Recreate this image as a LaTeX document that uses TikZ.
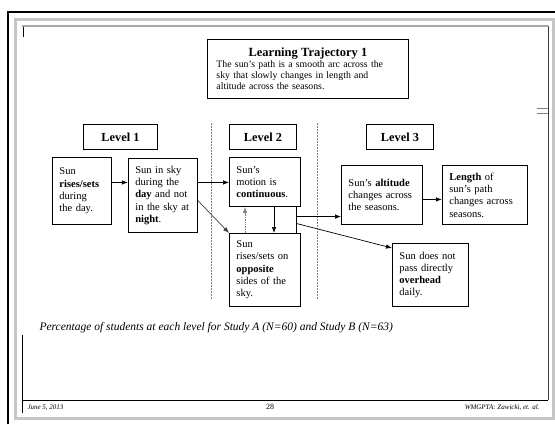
\documentclass[tikz,border=0pt]{standalone}
\usepackage{fontspec}
\setmainfont{Liberation Serif}
\usepackage{tikz}
\usetikzlibrary{positioning,arrows.meta}

\begin{document}
\begin{tikzpicture}[x=1pt, y=-1pt,
stage/.style={draw, line width=0.9pt, anchor=north west, align=left, inner xsep=7pt, inner ysep=4pt, font=\fontsize{10.5}{12.3}\selectfont},
levelbox/.style={draw, line width=0.9pt, anchor=north west, minimum height=25pt, font=\fontsize{12.3}{14}\selectfont\bfseries},
flow/.style={-{Latex[length=6pt,width=4.5pt]}, line width=0.7pt},
divider/.style={gray, line width=0.5pt, dash pattern=on 1.5pt off 1.5pt}]
\useasboundingbox (0,0) rectangle (555,424);

\draw[gray!45, line width=3pt] (15,19) -- (553,19) -- (553,418) -- (15,418) -- cycle;
\draw[line width=2.5pt] (8,424) -- (8,12) -- (555,12);
\draw[gray!70, line width=1.5pt] (22,26) -- (548,26);
\draw[black!75, line width=1pt] (548,26) -- (548,400);
\draw[line width=0.7pt] (22,400) -- (548,400);
\draw[line width=1pt] (23,27) -- (23,37);
\draw[line width=0.8pt] (22,335) -- (22,413);
\draw[gray, line width=0.8pt] (537,108) -- (548,108) (537,113) -- (548,113);

\node[draw, line width=0.9pt, anchor=north west, align=left, text width=183pt, inner xsep=9pt, inner ysep=4pt, minimum height=59pt, font=\fontsize{9.8}{11}\selectfont] (traj) at (207,39)
{\makebox[183pt]{\fontsize{12.5}{14}\selectfont\bfseries Learning Trajectory 1}\\
The sun's path is a smooth arc across the\\
sky that slowly changes in length and\\
altitude across the seasons.};

\node[levelbox, minimum width=74pt] (lvl1) at (83,124) {Level 1};
\node[levelbox, minimum width=67pt] (lvl2) at (229,124) {Level 2};
\node[levelbox, minimum width=67pt] (lvl3) at (366,124) {Level 3};

\draw[divider] (211,123) -- (211,300);
\draw[divider] (317,123) -- (317,300);

\node[stage, text width=45pt, minimum height=67pt] (rises) at (52,157)
{Sun\\\textbf{rises/sets}\\during\\the day.};
\node[stage, text width=55pt, minimum height=74pt, right=16pt of rises.north east, anchor=north west, yshift=-1pt] (insky)
{Sun in sky\\during the\\\textbf{day} and not\\in the sky at\\\textbf{night}.};
\node[stage, text width=57pt, minimum height=49pt] (cont) at (229,157)
{Sun's\\motion is\\\textbf{continuous}.};
\node[stage, text width=57pt, minimum height=73pt] (opp) at (229,233)
{Sun\\rises/sets on\\\textbf{opposite}\\sides of the\\sky.};
\node[stage, text width=67pt, minimum height=59pt] (alt) at (341,165)
{Sun's \textbf{altitude}\\changes across\\the seasons.};
\node[stage, text width=71pt, minimum height=59pt, right=19pt of alt.north east, anchor=north west] (length)
{\textbf{Length} of\\sun's path\\changes across\\seasons.};
\node[stage, text width=62pt, minimum height=63pt] (over) at (392,243)
{Sun does not\\pass directly\\\textbf{overhead}\\daily.};

\draw[flow] ([yshift=8.5pt]rises.east) coordinate (r1) -- (r1 -| insky.west);
\draw[flow] ([yshift=13pt]insky.east) coordinate (s1) -- (s1 -| cont.west);
\draw[flow, black!75] ([yshift=-5pt]insky.east) -- (opp.north west);
\draw[flow, gray, densely dotted] ([xshift=16pt]opp.north west) -- ([xshift=16pt]cont.south west);
\draw[flow] ([xshift=45pt]cont.south west) -- ([xshift=45pt]opp.north west);
\draw[line width=0.7pt] ([xshift=-5pt]cont.south east) -- coordinate[pos=0.37] (j1) coordinate[pos=0.63] (j2) ([xshift=-5pt]opp.north east);
\draw[flow] (j1) -- (j1 -| alt.west);
\draw[flow] (j2) -- ([yshift=-5pt]over.north west);
\draw[flow] ([yshift=-4.5pt]alt.east) coordinate (a1) -- (a1 -| length.west);

\node[anchor=west, font=\fontsize{11.5}{13}\selectfont\itshape] (note) at (36,328)
{Percentage of students at each level for Study A (N=60) and Study B (N=63)};

\node[anchor=west, font=\fontsize{7}{8}\selectfont\itshape] (date) at (24,408) {June 5, 2013};
\node[font=\fontsize{8}{9}\selectfont] (page) at (270,407) {28};
\node[anchor=east, font=\fontsize{7}{8}\selectfont\itshape] (credit) at (543,408) {WMGPTA: Zawicki, et. al.};
\end{tikzpicture}
\end{document}
